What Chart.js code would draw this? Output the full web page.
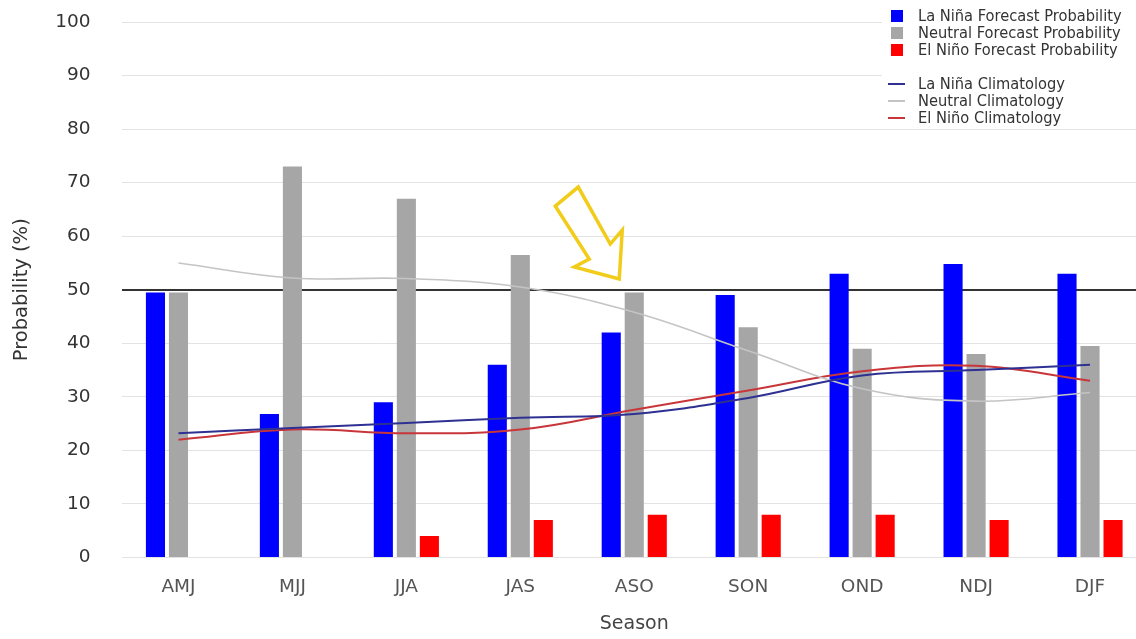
<!DOCTYPE html>
<html>
<head>
<meta charset="utf-8">
<script src="https://cdn.jsdelivr.net/npm/chart.js@4.4.1/dist/chart.umd.min.js"></script>
<style>
  html, body { margin: 0; padding: 0; background: #fff; overflow: hidden; }
  #wrap { width: 1136px; height: 639px; overflow: hidden; }
</style>
</head>
<body>
<div id="wrap"><canvas id="enso" width="1147" height="639"></canvas></div>
<script>
// seasons and values
const seasons = ['AMJ', 'MJJ', 'JJA', 'JAS', 'ASO', 'SON', 'OND', 'NDJ', 'DJF'];
const laNinaForecast  = [49.5, 26.8, 29, 36, 42, 49, 53, 54.8, 53];
const neutralForecast = [49.5, 73, 67, 56.5, 49.5, 43, 39, 38, 39.5];
const elNinoForecast  = [0, 0, 4, 7, 8, 8, 8, 7, 7];
const laNinaClim  = [23.2, 24.2, 25.1, 26.1, 26.8, 29.8, 34.0, 35.0, 36.0];
const neutralClim = [55.0, 52.2, 52.1, 50.5, 45.8, 38.6, 31.5, 29.2, 30.8];
const elNinoClim  = [22.0, 23.9, 23.2, 23.9, 27.6, 31.2, 34.8, 35.8, 33.0];
const yTicks = [0, 10, 20, 30, 40, 50, 60, 70, 80, 90, 100];

const FONT = '"DejaVu Sans", sans-serif';

// legend in the top right corner, bars then lines
const legendBox = {
    id: 'legendBox',
    afterDraw(chart) {
        const ctx = chart.ctx;
        ctx.save();
        ctx.fillStyle = '#fff';
        ctx.fillRect(882, 4, 265, 122);
        ctx.font = '16.3px "DejaVu Sans Condensed", sans-serif';
        ctx.textBaseline = 'middle';
        ctx.textAlign = 'left';
        const rows = [16, 33, 50, 84, 101, 118];
        chart.data.datasets.forEach((d, i) => {
            const y = rows[i];
            if (d.type === 'line') {
                ctx.strokeStyle = d.borderColor;
                ctx.lineWidth = 2;
                ctx.beginPath();
                ctx.moveTo(888, y);
                ctx.lineTo(905, y);
                ctx.stroke();
            } else {
                ctx.fillStyle = d.backgroundColor;
                ctx.fillRect(891, y - 6, 12, 12);
            }
            ctx.fillStyle = '#333';
            ctx.fillText(d.label, 918, y + 1);
        });
        ctx.restore();
    }
};

// yellow hollow arrow pointing at ASO
const arrow = {
    id: 'arrow',
    afterDraw(chart) {
        const x = chart.scales.x.getPixelForValue(4) - 15;
        const y = chart.scales.y.getPixelForValue(52);
        const pts = [[-64, -73], [-41, -92], [-9, -35], [3, -49], [0, 0], [-45, -12], [-30, -20]];
        const ctx = chart.ctx;
        ctx.save();
        ctx.strokeStyle = '#f2cc1a';
        ctx.lineWidth = 3.5;
        ctx.lineJoin = 'miter';
        ctx.beginPath();
        pts.forEach((p, i) => i ? ctx.lineTo(x + p[0], y + p[1]) : ctx.moveTo(x + p[0], y + p[1]));
        ctx.closePath();
        ctx.stroke();
        ctx.restore();
    }
};

const ctxEnso = document.getElementById('enso').getContext('2d');
new Chart(ctxEnso, {
    data: {
        labels: seasons,
        datasets: [
            { type: 'bar', label: 'La Niña Forecast Probability', data: laNinaForecast, backgroundColor: '#0000ff', order: 1 },
            { type: 'bar', label: 'Neutral Forecast Probability', data: neutralForecast, backgroundColor: '#a6a6a6', order: 1 },
            { type: 'bar', label: 'El Niño Forecast Probability', data: elNinoForecast, backgroundColor: '#ff0000', order: 1 },
            { type: 'line', label: 'La Niña Climatology', data: laNinaClim, borderColor: '#2e3192', borderWidth: 2, order: 0 },
            { type: 'line', label: 'Neutral Climatology', data: neutralClim, borderColor: '#c4c4c4', borderWidth: 1.6, order: 0 },
            { type: 'line', label: 'El Niño Climatology', data: elNinoClim, borderColor: '#c8363a', borderWidth: 2, order: 0 }
        ]
    },
    options: {
        responsive: false,
        animation: false,
        layout: { padding: { top: 22, left: 0, right: 0, bottom: 0 } },
        datasets: {
            bar: { categoryPercentage: 0.606, barPercentage: 0.83 },
            line: { pointRadius: 0, tension: 0.4, fill: false }
        },
        plugins: {
            legend: { display: false },
            tooltip: { enabled: false }
        },
        scales: {
            x: {
                grid: { display: false, drawTicks: false },
                border: { display: false },
                ticks: { color: '#555', font: { family: FONT, size: 18.5 }, padding: 19 },
                title: { display: true, text: 'Season', color: '#444', font: { family: FONT, size: 19 }, padding: { top: 0, bottom: 3.5 } },
                afterFit(scale) { scale.height = 81.5; }
            },
            y: {
                min: 0,
                max: 100,
                afterBuildTicks(scale) { scale.ticks = yTicks.map(v => ({ value: v })); },
                grid: {
                    drawTicks: false,
                    color: c => c.tick.value === 50 ? '#333' : '#e3e3e3',
                    lineWidth: c => c.tick.value === 50 ? 2 : 1
                },
                border: { display: false },
                ticks: { color: '#333', font: { family: FONT, size: 18.5 }, padding: 31 },
                title: { display: true, text: 'Probability (%)', color: '#333', font: { family: FONT, size: 19.5 }, padding: { top: 10, bottom: 0 } },
                afterFit(scale) {
                    scale.width = 121.5;
                    scale.paddingTop = 0;
                    scale.paddingBottom = 0;
                }
            }
        }
    },
    plugins: [legendBox, arrow]
});
</script>
</body>
</html>
